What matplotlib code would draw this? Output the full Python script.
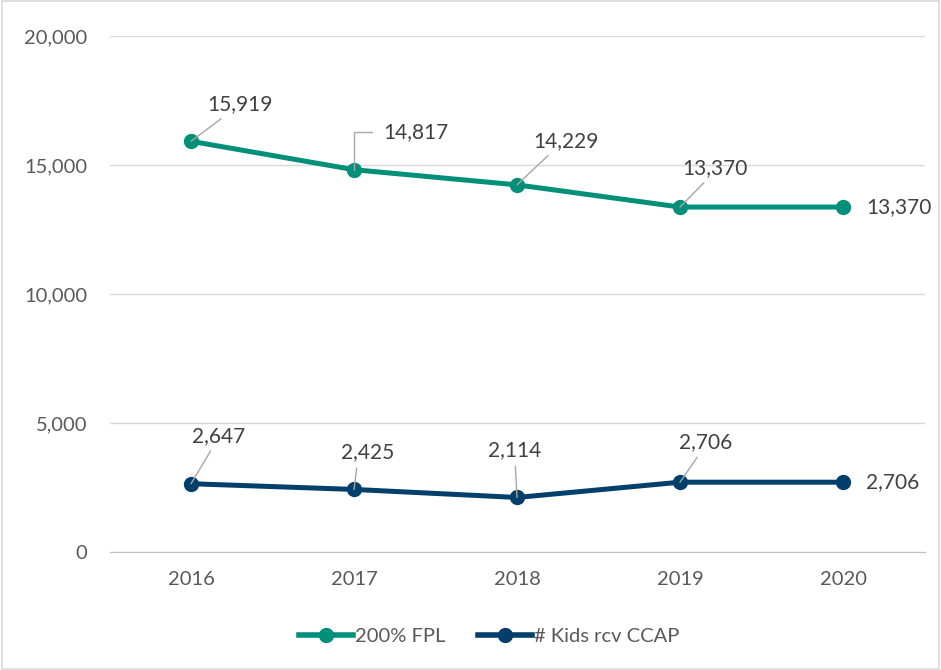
import matplotlib.pyplot as plt
from matplotlib.patches import Rectangle
from matplotlib.ticker import FuncFormatter

plt.rcParams['font.family'] = ['Lato', 'DejaVu Sans']

years = ['2016', '2017', '2018', '2019', '2020']
fpl = [15919, 14817, 14229, 13370, 13370]
ccap = [2647, 2425, 2114, 2706, 2706]

teal = '#00907a'
navy = '#023f6b'
grid_c = '#d9d9d9'
tick_c = '#595959'
lab_c = '#404040'
lead_c = '#a6a6a6'

# label offsets in pixels (dx, dy, ha, relpos for leader)
fpl_off = [(49, 37, 'center', (0.3, 0)), (62, 38, 'center', None),
           (49, 44, 'center', (0.3, 0)), (35, 39, 'center', (0.4, 0)),
           (23, 0, 'left', 'none')]
ccap_off = [(28, 48, 'center', (0.4, 0)), (14, 37, 'center', (0.3, 0)),
            (-2, 47, 'center', (0.5, 0)), (26, 40, 'center', (0.4, 0)),
            (23, 0, 'left', 'none')]

fig = plt.figure(figsize=(9.41, 6.7), dpi=100)
ax = fig.add_axes([0.1164, 0.1761, 0.8661, 0.7702])
fig.patches.append(Rectangle((0.002, 0.002), 0.996, 0.996, transform=fig.transFigure,
                             fill=False, edgecolor=grid_c, lw=1.2))

x = list(range(len(years)))
ax.plot(x, fpl, color=teal, lw=3.6, marker='o', ms=10, label='200% FPL', zorder=3)
ax.plot(x, ccap, color=navy, lw=3.6, marker='o', ms=10, label='# Kids rcv CCAP', zorder=3)

def label(vals, offs):
    for i, (v, (dx, dy, ha, rp)) in enumerate(zip(vals, offs)):
        txt = f'{v:,}'
        if rp == 'none':
            ax.annotate(txt, (i, v), xytext=(dx, dy), textcoords='offset pixels',
                        ha=ha, va='center', fontsize=15, color=lab_c)
        elif rp is None:
            ax.annotate(txt, (i, v), xytext=(dx, dy), textcoords='offset pixels',
                        ha=ha, va='center', fontsize=15, color=lab_c,
                        arrowprops=dict(arrowstyle='-', color=lead_c, lw=1,
                                        relpos=(0, 0.5), shrinkA=6, shrinkB=0,
                                        connectionstyle='angle,angleA=0,angleB=90,rad=0'))
        else:
            ax.annotate(txt, (i, v), xytext=(dx, dy), textcoords='offset pixels',
                        ha=ha, va='center', fontsize=15, color=lab_c,
                        arrowprops=dict(arrowstyle='-', color=lead_c, lw=1,
                                        relpos=rp, shrinkA=2, shrinkB=0))

label(fpl, fpl_off)
label(ccap, ccap_off)

ax.set_xlim(-0.5, 4.5)
ax.set_ylim(0, 20000)
ax.set_yticks([0, 5000, 10000, 15000, 20000])
ax.yaxis.set_major_formatter(FuncFormatter(lambda v, p: f'{int(v):,}'))
ax.set_xticks(x)
ax.set_xticklabels(years)
ax.grid(axis='y', color=grid_c, lw=1)
ax.set_axisbelow(True)
for s in ['top', 'right', 'left']:
    ax.spines[s].set_visible(False)
ax.spines['bottom'].set_color('#bfbfbf')
ax.tick_params(axis='both', length=0, labelsize=14.5, colors=tick_c)
ax.tick_params(axis='y', pad=16)
ax.tick_params(axis='x', pad=14)

leg = ax.legend(loc='center', bbox_to_anchor=(0.466, -0.163), ncol=2, frameon=False,
                fontsize=14.5, handlelength=2.7, handletextpad=0.1, columnspacing=1.6)
for line in leg.get_lines():
    line.set_linewidth(4)
for t in leg.get_texts():
    t.set_color(tick_c)

fig.savefig('out.png', dpi=100)
